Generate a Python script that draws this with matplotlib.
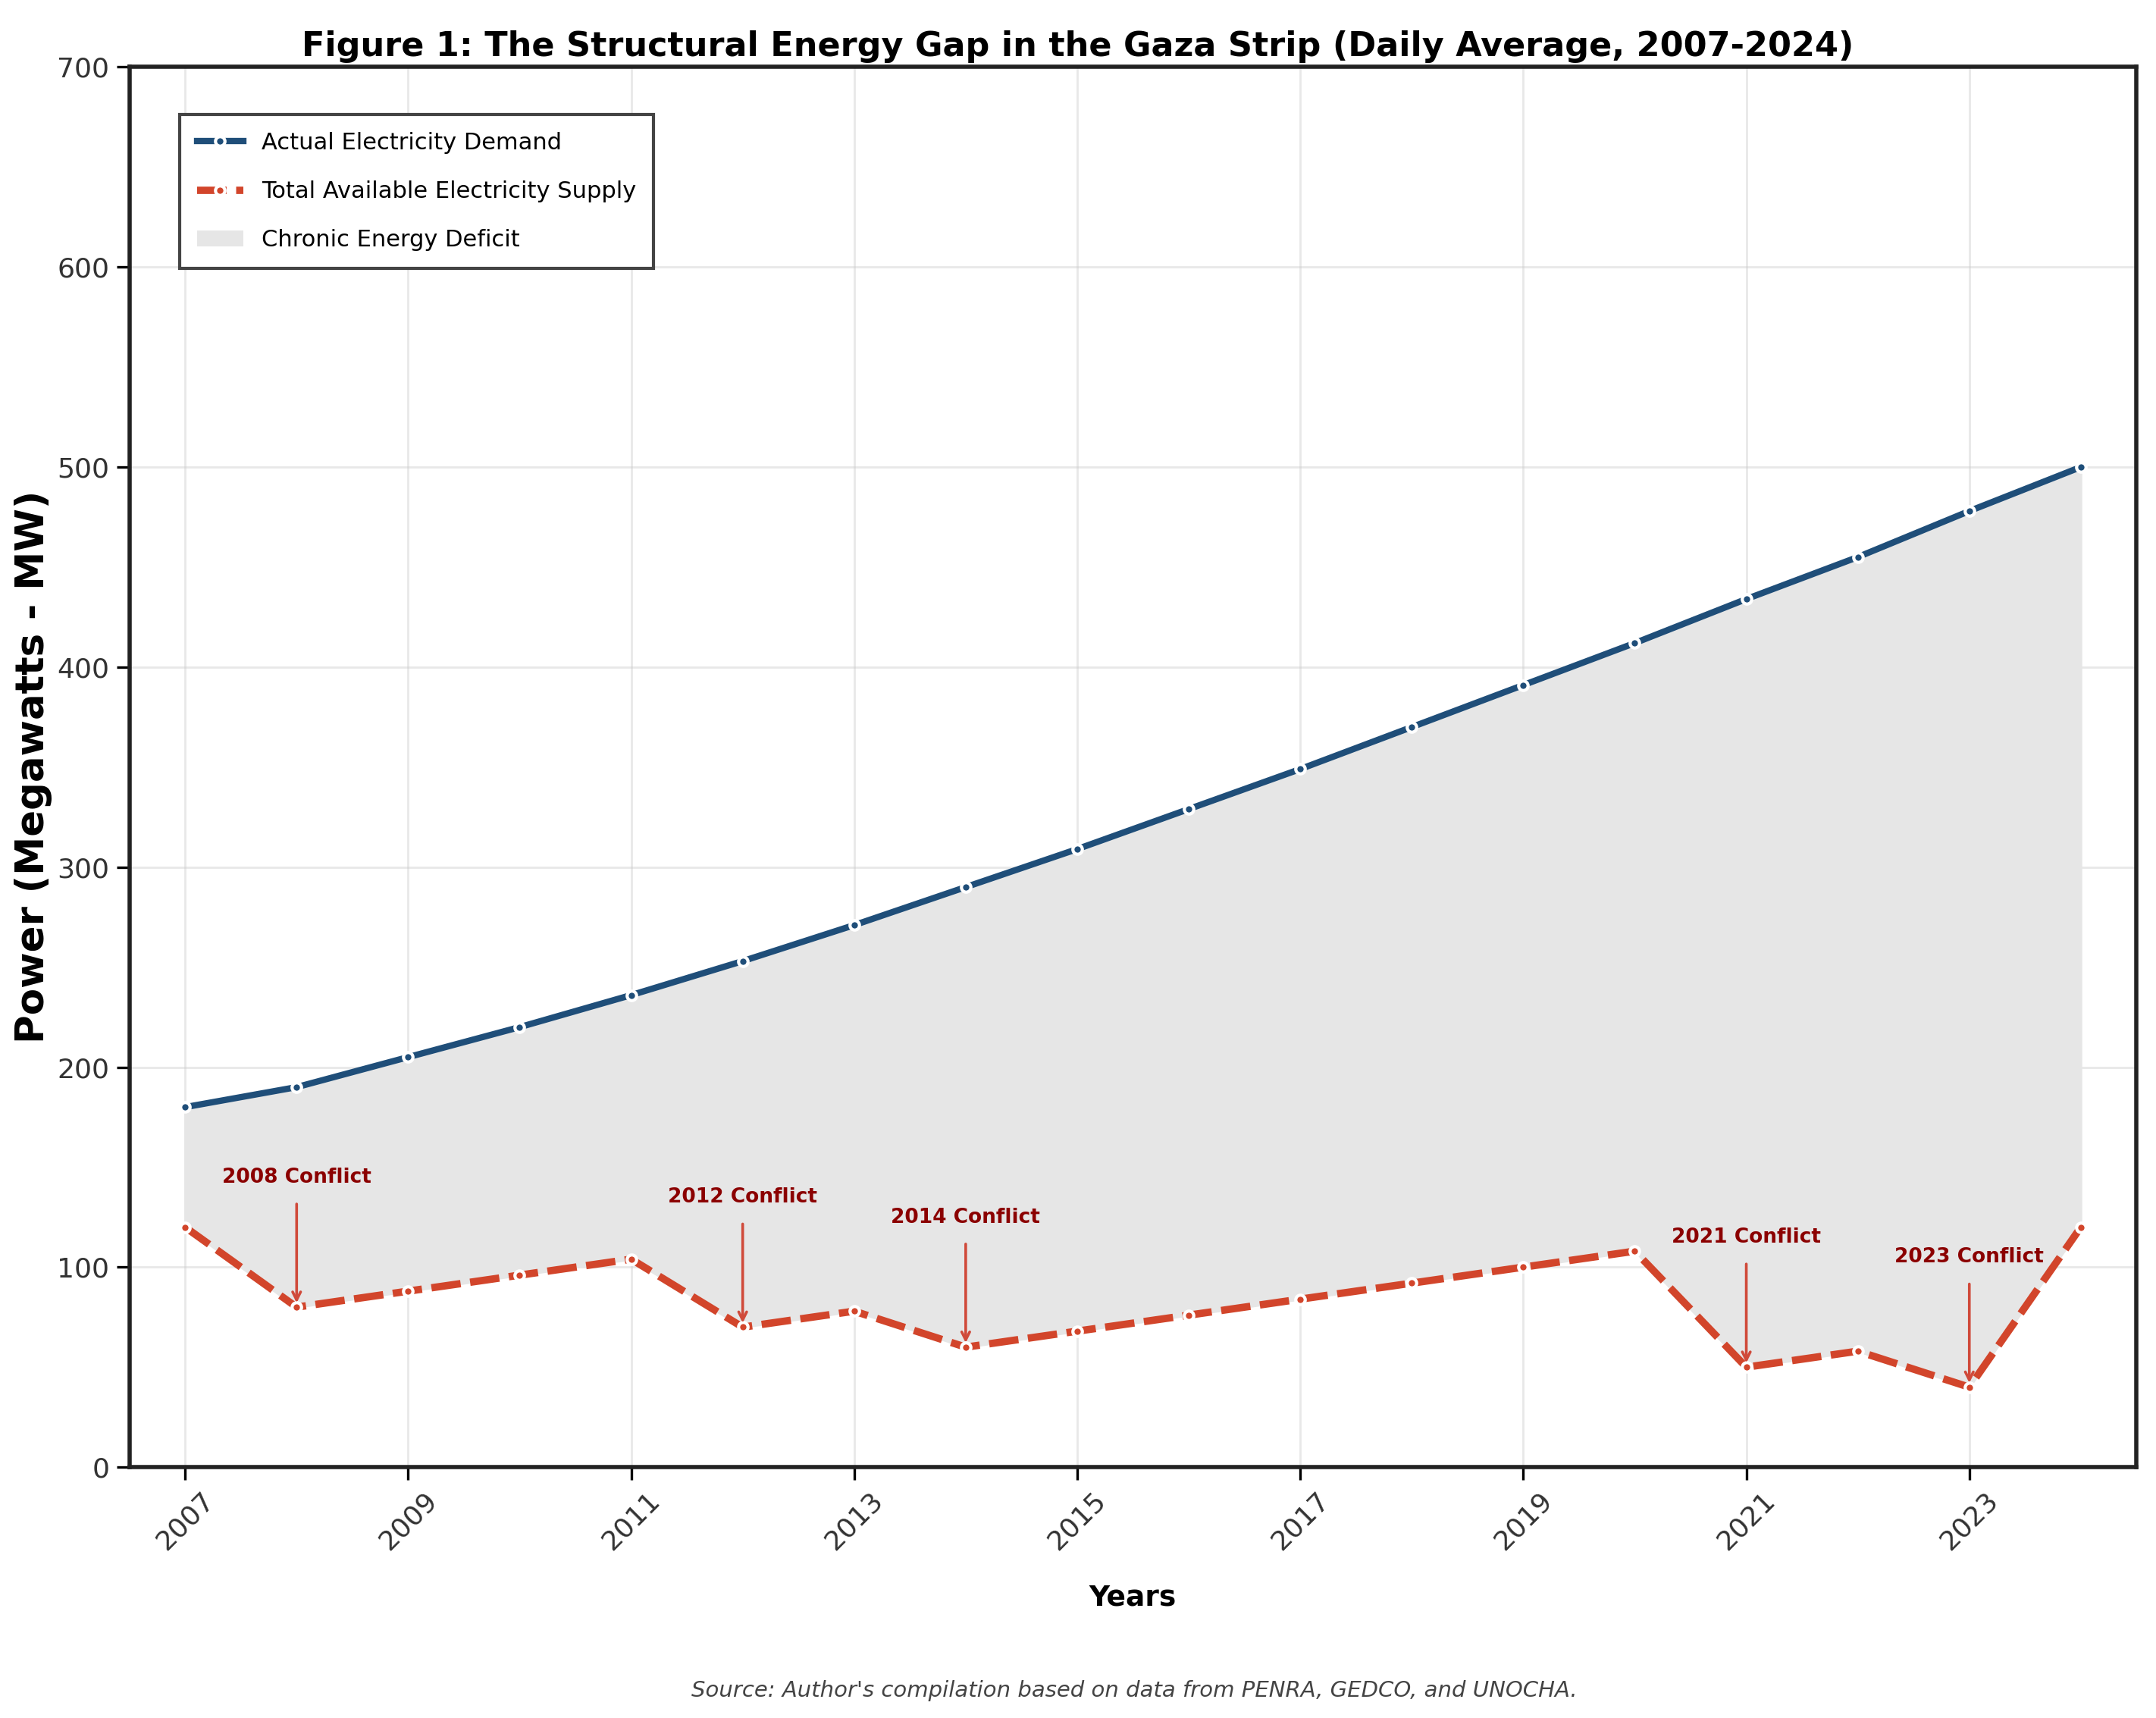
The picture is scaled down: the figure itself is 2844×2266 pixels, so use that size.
import matplotlib
matplotlib.use("Agg")
import matplotlib.pyplot as plt
from matplotlib.patches import Patch
from matplotlib.lines import Line2D

# Data
years = list(range(2007, 2025))
demand = [180, 190, 205, 220, 236, 253, 271, 290, 309, 329,
          349, 370, 391, 412, 434, 455, 478, 500]
supply = [120, 80, 88, 96, 104, 70, 78, 60, 68, 76,
          84, 92, 100, 108, 50, 58, 40, 120]

conflict_years = [2008, 2012, 2014, 2021, 2023]
conflict_labels = ['2008 Conflict', '2012 Conflict', '2014 Conflict',
                   '2021 Conflict', '2023 Conflict']

demand_color = '#1f4e79'
supply_color = '#d2452b'
fill_color = '#e6e6e6'

plt.rcParams['font.family'] = 'DejaVu Sans'

fig = plt.figure(figsize=(14.22, 11.33), dpi=200)
ax = fig.add_axes([0.060, 0.146, 0.931, 0.815])

# Deficit area between the two lines
ax.fill_between(years, supply, demand, color=fill_color, zorder=1)

ax.plot(years, demand, color=demand_color, lw=3, marker='o', ms=4.5,
        mec='white', mew=1.5, zorder=3)
ax.plot(years, supply, color=supply_color, lw=3.5, dashes=(4, 1.3),
        marker='o', ms=4.5, mec='white', mew=1.5, zorder=3)

# Conflict annotations
for yr, lab in zip(conflict_years, conflict_labels):
    val = supply[years.index(yr)]
    ax.annotate(lab, xy=(yr, val), xytext=(yr, val + 60),
                ha='center', va='bottom', fontsize=9.5, fontweight='bold',
                color='#8b0000', zorder=4,
                arrowprops=dict(arrowstyle='->', color='#d04a3a', lw=1.3,
                                shrinkA=6, shrinkB=2))

ax.set_xlim(2006.5, 2024.5)
ax.set_ylim(0, 700)
ax.set_xticks(range(2007, 2025, 2))
ax.set_yticks(range(0, 701, 100))
ax.tick_params(axis='x', labelrotation=45, labelsize=13, length=6, width=1.2,
               labelcolor='#333333')
ax.tick_params(axis='y', labelsize=13, length=6, width=1.2,
               labelcolor='#333333')

ax.grid(True, color='#cccccc', alpha=0.45, lw=1)
ax.set_axisbelow(True)
for sp in ax.spines.values():
    sp.set_linewidth(2)
    sp.set_color('#222222')

fig.suptitle('Figure 1: The Structural Energy Gap in the Gaza Strip (Daily Average, 2007-2024)',
             x=0.5, y=0.973, va='center', fontsize=16, fontweight='bold')
ax.set_xlabel('Years', fontsize=13.5, fontweight='bold', labelpad=14)
ax.set_ylabel('Power (Megawatts - MW)', fontsize=18.5, fontweight='bold')
ax.yaxis.set_label_coords(-0.0385, 0.5)

handles = [
    Line2D([], [], color=demand_color, lw=3, marker='o', ms=4.5,
           mec='white', mew=1.5),
    Line2D([], [], color=supply_color, lw=3.5, dashes=(4, 1.3), marker='o',
           ms=4.5, mec='white', mew=1.5),
    Patch(facecolor=fill_color, edgecolor='none'),
]
labels = ['Actual Electricity Demand', 'Total Available Electricity Supply',
          'Chronic Energy Deficit']
leg = ax.legend(handles, labels, loc='upper left', fontsize=11,
                bbox_to_anchor=(0.025, 0.966), borderaxespad=0,
                frameon=True, fancybox=False,
                edgecolor='#444444', framealpha=1, handlelength=2,
                borderpad=0.75, labelspacing=1.15)
leg.get_frame().set_linewidth(1.5)

fig.text(0.526, 0.016, "Source: Author's compilation based on data from PENRA, GEDCO, and UNOCHA.",
         ha='center', va='center', fontsize=10.5, style='italic', color='#444444')

fig.savefig('out.png', dpi=200)
